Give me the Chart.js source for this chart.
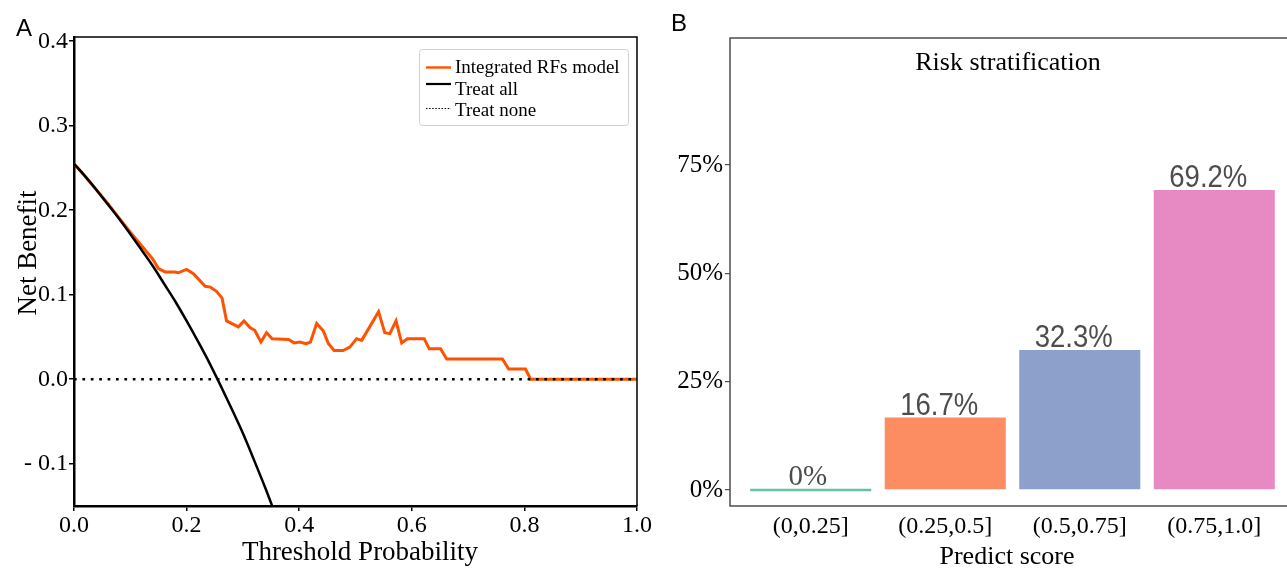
<!DOCTYPE html>
<html>
<head>
<meta charset="utf-8">
<title>Decision curve and risk stratification</title>
<script src="https://cdn.jsdelivr.net/npm/chart.js"></script>
<style>
  html, body { margin: 0; padding: 0; background: #fff; }
  body { width: 1287px; height: 569px; overflow: hidden; position: relative; }
  canvas { position: absolute; top: 0; }
  #dca { left: 0; }
  #risk { left: 660px; }
</style>
</head>
<body>
<canvas id="dca" width="660" height="569"></canvas>
<canvas id="risk" width="660" height="569"></canvas>
<script>
// ---- panel A: decision curve ----
const modelT = [0, 0.02, 0.04, 0.06, 0.08, 0.10, 0.12, 0.14, 0.15, 0.162, 0.179, 0.185, 0.200, 0.212,
  0.233, 0.242, 0.253, 0.263, 0.271, 0.292, 0.302, 0.313, 0.321, 0.332, 0.342, 0.352, 0.381, 0.391,
  0.401, 0.412, 0.420, 0.431, 0.443, 0.452, 0.462, 0.478, 0.490, 0.502, 0.511, 0.541, 0.552, 0.561,
  0.572, 0.582, 0.592, 0.622, 0.631, 0.651, 0.662, 0.761, 0.772, 0.802, 0.811, 1.0];
const modelNB = [0.255, 0.240, 0.224, 0.208, 0.191, 0.174, 0.158, 0.142, 0.131, 0.127, 0.127, 0.126, 0.130, 0.125,
  0.110, 0.109, 0.104, 0.096, 0.069, 0.062, 0.069, 0.061, 0.058, 0.044, 0.055, 0.048, 0.047, 0.043,
  0.044, 0.042, 0.044, 0.066, 0.057, 0.042, 0.034, 0.034, 0.038, 0.048, 0.046, 0.080, 0.055, 0.054,
  0.069, 0.043, 0.048, 0.048, 0.036, 0.036, 0.024, 0.024, 0.012, 0.012, 0.0, 0.0];

const allT = [0, 0.02, 0.04, 0.06, 0.08, 0.10, 0.12, 0.14, 0.16, 0.18, 0.20, 0.22, 0.24, 0.26, 0.28, 0.30, 0.32, 0.34, 0.36];
const allNB = [0.255, 0.240, 0.224, 0.207, 0.190, 0.172, 0.153, 0.134, 0.113, 0.092, 0.069, 0.045, 0.020,
  -0.007, -0.035, -0.064, -0.096, -0.129, -0.164];

const noneT = [0, 1];
const noneNB = [0, 0];

const dcaXTicks = [0, 0.2, 0.4, 0.6, 0.8, 1.0];
const dcaYTicks = [-0.1, 0, 0.1, 0.2, 0.3, 0.4];
const legendNames = ['Integrated RFs model', 'Treat all', 'Treat none'];

// ---- panel B: risk stratification ----
const bins = ['(0,0.25]', '(0.25,0.5]', '(0.5,0.75]', '(0.75,1.0]'];
const riskRate = [0, 0.167, 0.323, 0.692];
const riskYTicks = [0, 0.25, 0.5, 0.75];

const ORANGE = '#FF5200';
const SERIF = '"Liberation Serif", "Times New Roman", serif';
const SANS = '"Liberation Sans", Arial, sans-serif';

const pts = (xs, ys) => xs.map((x, i) => ({ x, y: ys[i] }));

// frame lines on top/right plus legend box and axis titles
const dcaDecor = {
  id: 'dcaDecor',
  afterDraw(chart) {
    const { ctx, chartArea: a } = chart;
    ctx.save();
    ctx.strokeStyle = '#000';
    ctx.lineWidth = 1.5;
    ctx.beginPath();
    ctx.moveTo(a.left, a.top);
    ctx.lineTo(a.right, a.top);
    ctx.lineTo(a.right, a.bottom);
    ctx.stroke();

    // legend
    ctx.fillStyle = '#fff';
    ctx.strokeStyle = '#cfcfcf';
    ctx.lineWidth = 1;
    ctx.beginPath();
    ctx.roundRect(419.5, 49.5, 209, 76, 3);
    ctx.fill();
    ctx.stroke();
    const rows = [
      { y: 67.5, color: ORANGE, width: 2.4, dash: [] },
      { y: 84, color: '#000', width: 2.2, dash: [] },
      { y: 108.5, color: '#000', width: 1.2, dash: [1.5, 1.6] }
    ];
    const base = [73, 94.5, 115.5];
    rows.forEach((r, i) => {
      ctx.beginPath();
      ctx.setLineDash(r.dash);
      ctx.strokeStyle = r.color;
      ctx.lineWidth = r.width;
      ctx.moveTo(426, r.y);
      ctx.lineTo(451, r.y);
      ctx.stroke();
      ctx.setLineDash([]);
      ctx.fillStyle = '#000';
      ctx.font = '19px ' + SERIF;
      ctx.textAlign = 'left';
      ctx.textBaseline = 'alphabetic';
      ctx.fillText(legendNames[i], 455, base[i]);
    });

    // titles
    ctx.fillStyle = '#000';
    ctx.font = '27px ' + SERIF;
    ctx.textAlign = 'center';
    ctx.fillText('Threshold Probability', 360, 560);
    ctx.save();
    ctx.translate(36, 253);
    ctx.rotate(-Math.PI / 2);
    ctx.fillText('Net Benefit', 0, 0);
    ctx.restore();

    ctx.font = '24px ' + SANS;
    ctx.textAlign = 'left';
    ctx.fillText('A', 16, 36);
    ctx.restore();
  }
};

new Chart(document.getElementById('dca'), {
  type: 'line',
  data: {
    datasets: [
      { label: legendNames[0], data: pts(modelT, modelNB), borderColor: ORANGE, borderWidth: 3,
        pointRadius: 0, tension: 0, order: 3 },
      { label: legendNames[1], data: pts(allT, allNB), borderColor: '#000', borderWidth: 2.5,
        pointRadius: 0, cubicInterpolationMode: 'monotone', order: 2 },
      { label: legendNames[2], data: pts(noneT, noneNB), borderColor: '#000', borderWidth: 2.7,
        borderDash: [2.7, 5.7], pointRadius: 0, order: 1 }
    ]
  },
  options: {
    responsive: false,
    animation: false,
    devicePixelRatio: 1,
    layout: { padding: { left: 0, right: 23, top: 37, bottom: 0 } },
    plugins: { legend: { display: false }, tooltip: { enabled: false } },
    scales: {
      x: {
        type: 'linear', min: 0, max: 1,
        afterFit(s) { s.height = 63; },
        afterBuildTicks(s) { s.ticks = dcaXTicks.map(v => ({ value: v })); },
        grid: { drawOnChartArea: false, drawTicks: true, tickLength: 5, color: '#000', lineWidth: 1.5 },
        border: { color: '#000', width: 2.5 },
        ticks: { color: '#000', font: { family: SERIF, size: 24 }, padding: 0, maxRotation: 0, autoSkip: false,
          callback: v => v.toFixed(1) }
      },
      y: {
        type: 'linear', min: -0.15, max: 0.405,
        afterFit(s) { s.width = 74; },
        afterBuildTicks(s) { s.ticks = dcaYTicks.map(v => ({ value: v })); },
        grid: { drawOnChartArea: false, drawTicks: true, tickLength: 5, color: '#000', lineWidth: 1.5 },
        border: { color: '#000', width: 2.5 },
        ticks: { color: '#000', font: { family: SERIF, size: 24 }, padding: 1, autoSkip: false,
          callback: v => (v < 0 ? '- ' + Math.abs(v).toFixed(1) : v.toFixed(1)) }
      }
    }
  },
  plugins: [dcaDecor]
});

// panel border, bar labels and titles
const riskDecor = {
  id: 'riskDecor',
  afterDatasetsDraw(chart) {
    const { ctx, scales } = chart;
    const meta = chart.getDatasetMeta(0);
    ctx.save();
    ctx.fillStyle = '#4D4D4D';
    ctx.textAlign = 'center';
    ctx.textBaseline = 'alphabetic';
    meta.data.forEach((bar, i) => {
      const v = riskRate[i];
      const y = scales.y.getPixelForValue(v);
      const txt = v === 0 ? '0%' : (v * 100).toFixed(1) + '%';
      if (v === 0) {
        ctx.font = '29px ' + SERIF;
        ctx.fillText(txt, bar.x - 3, y - 5);
      } else {
        // the original labels use a narrow sans face
        ctx.save();
        ctx.translate(bar.x - 6, y - 3);
        ctx.scale(0.86, 1);
        ctx.font = '32px ' + SANS;
        ctx.fillText(txt, 0, 0);
        ctx.restore();
      }
    });
    ctx.restore();
  },
  afterDraw(chart) {
    const { ctx, chartArea: a } = chart;
    ctx.save();
    ctx.strokeStyle = '#4D4D4D';
    ctx.lineWidth = 1.5;
    ctx.strokeRect(a.left, a.top, a.right - a.left, a.bottom - a.top);

    ctx.fillStyle = '#000';
    ctx.textAlign = 'center';
    ctx.textBaseline = 'alphabetic';
    ctx.font = '26px ' + SERIF;
    ctx.fillText('Risk stratification', 348, 70);
    ctx.fillText('Predict score', 347, 564);

    ctx.font = '24px ' + SANS;
    ctx.textAlign = 'left';
    ctx.fillText('B', 11, 31);
    ctx.restore();
  }
};

new Chart(document.getElementById('risk'), {
  type: 'bar',
  data: {
    datasets: [{
      data: bins.map((b, i) => ({ x: i + 1, y: riskRate[i] })),
      backgroundColor: ['#66C2A5', '#FC8D62', '#8DA0CB', '#E78AC3'],
      barPercentage: 0.9,
      categoryPercentage: 1,
      minBarLength: 2.5
    }]
  },
  options: {
    responsive: false,
    animation: false,
    devicePixelRatio: 1,
    layout: { padding: { left: 0, right: 25, top: 38, bottom: 0 } },
    plugins: { legend: { display: false }, tooltip: { enabled: false } },
    scales: {
      x: {
        type: 'linear', min: 0.4, max: 4.6, offset: false,
        afterFit(s) { s.height = 63; },
        afterBuildTicks(s) { s.ticks = bins.map((b, i) => ({ value: i + 1 })); },
        grid: { display: false, offset: false },
        border: { display: false },
        ticks: { color: '#000', font: { family: SERIF, size: 24 }, padding: -2, maxRotation: 0, autoSkip: false,
          callback: v => bins[Math.round(v) - 1] }
      },
      y: {
        type: 'linear', min: -0.037, max: 1.043, beginAtZero: false,
        afterFit(s) { s.width = 70; },
        afterBuildTicks(s) { s.ticks = riskYTicks.map(v => ({ value: v })); },
        grid: { drawOnChartArea: false, drawTicks: true, tickLength: 5, color: '#4D4D4D', lineWidth: 1.2 },
        border: { display: false },
        ticks: { color: '#000', font: { family: SERIF, size: 25 }, padding: 2, autoSkip: false,
          callback: v => Math.round(v * 100) + '%' }
      }
    }
  },
  plugins: [riskDecor]
});
</script>
</body>
</html>
